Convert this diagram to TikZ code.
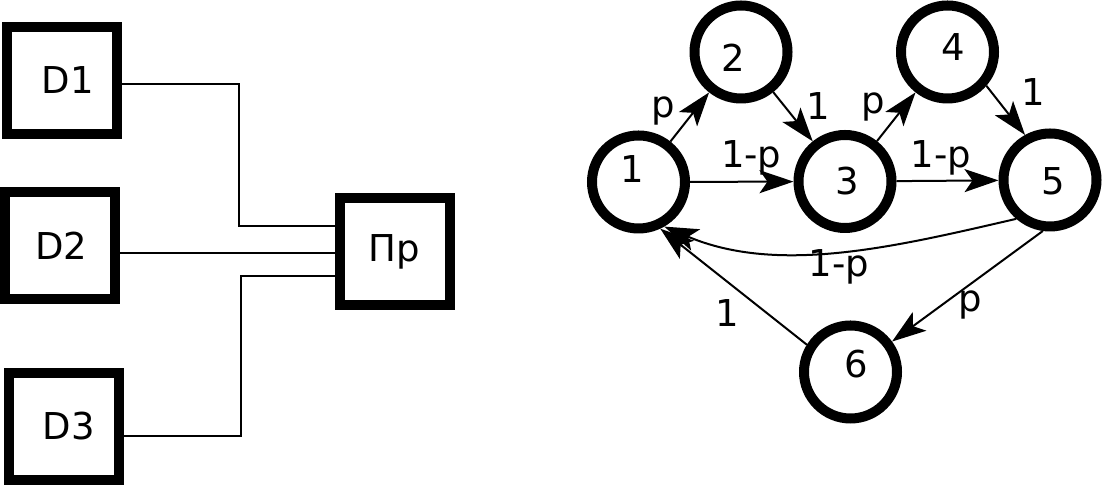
\documentclass[tikz,border=0pt]{standalone}
\usepackage{fontspec}
\setmainfont{DejaVu Sans}
\usetikzlibrary{arrows.meta}

\begin{document}
\begin{tikzpicture}[x=1pt, y=1pt, font=\fontsize{37}{44}\selectfont,
    unit/.style={draw, line width=10pt, minimum width=110pt, minimum height=107pt, inner sep=0pt},
    state/.style={draw, circle, line width=10pt, minimum size=93pt, inner sep=0pt},
    wire/.style={line width=2pt},
    trans/.style={line width=2pt, -{Stealth[length=34pt, width=23pt, inset=8pt]}},
    prob/.style={inner sep=0pt}]

        \useasboundingbox (0,0) rectangle (1109,486);

        % Devices and the processor
        \node[unit] (d1) at (62,405.5) {\hspace{12pt}D1};
        \node[unit] (d2) at (59.5,240.5) {\hspace{4pt}D2};
        \node[unit] (d3) at (63.5,59.5) {\hspace{11pt}D3};
        \node[unit] (pr) at (394.5,234) {Пр};

        % Wires
        \draw[wire] (d1.east |- 0,402) -- (239,402) |- (pr.west |- 0,260);
        \draw[wire] (d2.east |- 0,233) -- (pr.west |- 0,233);
        \draw[wire] (d3.east |- 0,50) -- (241,50) |- (pr.west |- 0,210);

        % States
        \node[state, label={[shift={(-6.5,13)}]center:1}] (s1) at (638.5,304) {};
        \node[state, label={[shift={(-8,-5.5)}]center:2}] (s2) at (741,434) {};
        \node[state, label={[shift={(2,0)}]center:3}] (s3) at (845,304.5) {};
        \node[state, label={[shift={(5.5,4.5)}]center:4}] (s4) at (947.5,434) {};
        \node[state, label={[shift={(3,-1)}]center:5}] (s5) at (1050,306) {};
        \node[state, label={[shift={(5.5,8)}]center:6}] (s6) at (850.5,114) {};

        % Transitions
        \draw[trans] (s1) -- (s2) node[prob, midway, shift={(-26.5,6)}] {p};
        \draw[trans] (s2) -- (s3) node[prob, midway, shift={(25,10.5)}] {1};
        \draw[trans] (s1) -- (s3) node[prob, midway, shift={(9.5,23.5)}] {1-p};
        \draw[trans] (s3) -- (s4) node[prob, midway, shift={(-23,9.7)}] {p};
        \draw[trans] (s4.-41) -- (s5.119) node[prob, midway, shift={(27.5,18.5)}] {1};
        \draw[trans] (s3) -- (s5) node[prob, midway, shift={(-6.5,23)}] {1-p};
        \draw[trans] (s5.229) to[out=193, in=-23, looseness=0.9] node[prob, shift={(1,-16)}] {1-p} (s1.-60);
        \draw[trans] (s5.262) -- (s6) node[prob, midway, shift={(2.5,-19)}] {p};
        \draw[trans] (s6.148) -- (s1.-65) node[prob, midway, shift={(-6.5,-26.5)}] {1};

\end{tikzpicture}
\end{document}
